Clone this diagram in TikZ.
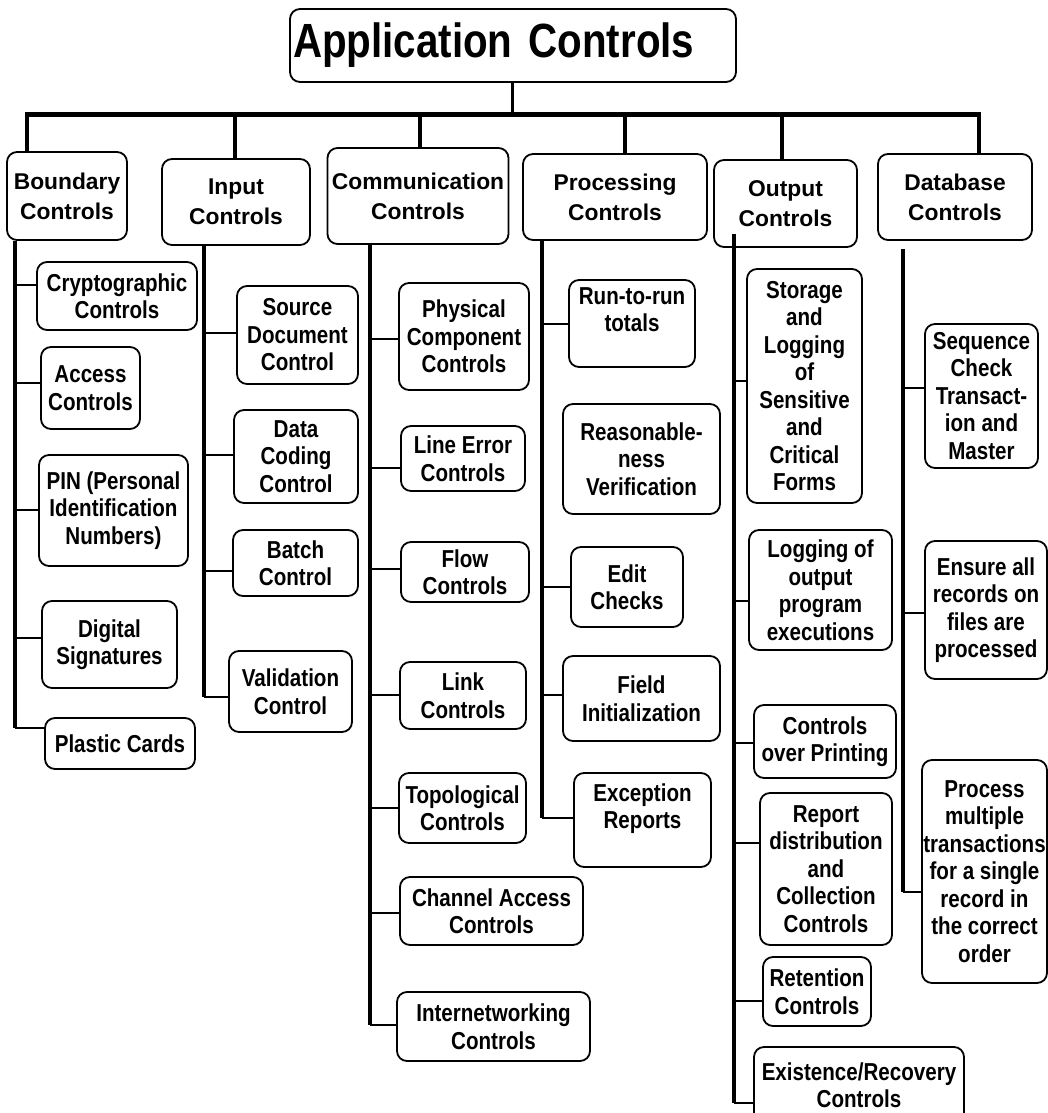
\documentclass[tikz,border=0pt]{standalone}
\usepackage{fontspec}
\setmainfont{Liberation Sans}
\newfontfamily\narrowsans{Liberation Sans}[FakeStretch=0.84]

\tikzset{
  ctl/.style={draw, rounded corners=10pt, line width=1.8pt, align=center, inner sep=0pt,
    font=\narrowsans\bfseries\fontsize{24.5}{27.5}\selectfont},
  cat/.style={ctl, font=\bfseries\fontsize{22.8}{30}\selectfont},
  wh/.style 2 args={minimum width=#1pt, minimum height=#2pt},
  stem/.style={line width=4.5pt},
  trunk/.style={line width=4pt},
  link/.style={line width=1.8pt},
}

\begin{document}
\begin{tikzpicture}[x=1pt, y=-1pt]
      \useasboundingbox (0,0) rectangle (1048,1113);
      \clip (0,0) rectangle (1048,1113);

      \node[ctl, wh={446}{73}, text width=440pt, align=left, font=\narrowsans\bfseries\fontsize{48}{52}\selectfont] (app) at (513,45.5) {Application Controls};

      \node[cat, wh={120}{88}] (bnd) at (67,196) {Boundary\\Controls};
      \node[cat, wh={148}{86}] (inp) at (236,202) {Input\\Controls};
      \node[cat, wh={181}{96}] (com) at (418,196) {Communication\\Controls};
      \node[cat, wh={184}{86}] (prc) at (615,197) {Processing\\Controls};
      \node[cat, wh={143}{87}] (out) at (785.5,203.5) {Output\\Controls};
      \node[cat, wh={154}{86}] (dbs) at (955,197) {Database\\Controls};

      \coordinate (hub) at (512,114.5);
      \draw[line width=3pt] (app.south -| hub) -- (hub);
      \draw[stem] (bnd.north -| 27,0) |- (hub) -| (dbs.north -| 979,0);
      \foreach \n/\x in {inp/235,com/420,prc/625,out/782}
        \draw[stem] (hub -| \x,0) -- (\n.north -| \x,0);

      % boundary
      \node[ctl, wh={160}{68}] (crypto) at (117,296) {Cryptographic\\Controls};
      \node[ctl, wh={99}{82}] (access) at (90.5,388) {Access\\Controls};
      \node[ctl, wh={149}{111}] (pin) at (113.5,510.5) {PIN (Personal\\Identification\\Numbers)};
      \node[ctl, wh={135}{87}] (digsig) at (109.5,644.5) {Digital\\Signatures};
      \node[ctl, wh={150}{51}] (plastic) at (120,743.5) {Plastic Cards};

      % input
      \node[ctl, wh={121}{98}] (srcdoc) at (297.5,335) {Source\\Document\\Control};
      \node[ctl, wh={124}{93}] (datacode) at (296,456.5) {Data\\Coding\\Control};
      \node[ctl, wh={125}{66}] (batch) at (295.5,563) {Batch\\Control};
      \node[ctl, wh={123}{81}] (valid) at (290.5,691.5) {Validation\\Control};

      % communication
      \node[ctl, wh={130}{107}] (physical) at (464,336.5) {Physical\\Component\\Controls};
      \node[ctl, wh={124}{65}] (lineerr) at (463,458.5) {Line Error\\Controls};
      \node[ctl, wh={128}{60}] (flow) at (465,572) {Flow\\Controls};
      \node[ctl, wh={126}{67}] (link) at (463,695.5) {Link\\Controls};
      \node[ctl, wh={127}{70}] (topo) at (462.5,808) {Topological\\Controls};
      \node[ctl, wh={183}{68}] (channel) at (491.5,911) {Channel Access\\Controls};
      \node[ctl, wh={193}{69}] (internet) at (493.5,1026.5) {Internetworking\\Controls};

      % processing
      \node[ctl, wh={126}{87}] (runrun) at (632,323.5) {Run-to-run\\totals\\\mbox{}};
      \node[ctl, wh={157}{110}] (reason) at (641.5,459) {Reasonable-\\ness\\Verification};
      \node[ctl, wh={112}{80}] (edit) at (627,587) {Edit\\Checks};
      \node[ctl, wh={157}{85}] (fieldinit) at (641.5,698.5) {Field\\Initialization};
      \node[ctl, wh={137}{94}] (except) at (642.5,820) {Exception\\Reports\\\mbox{}};

      % output
      \node[ctl, wh={115}{234}] (storage) at (804.5,386) {Storage\\and\\Logging\\of\\Sensitive\\and\\Critical\\Forms};
      \node[ctl, wh={143}{120}] (logging) at (820.5,590) {Logging of\\output\\program\\executions};
      \node[ctl, wh={142}{73}] (printing) at (825,741.5) {Controls\\over Printing};
      \node[ctl, wh={132}{152}] (report) at (826,869) {Report\\distribution\\and\\Collection\\Controls};
      \node[ctl, wh={108}{69}] (retention) at (817,991.5) {Retention\\Controls};
      \node[ctl, wh={210}{76}] (exist) at (859,1085) {Existence/Recovery\\Controls};

      % database
      \node[ctl, wh={113}{144}] (seqchk) at (981.5,396) {Sequence\\Check\\Transact-\\ion and\\Master};
      \node[ctl, wh={122}{138}] (ensure) at (986,610) {Ensure all\\records on\\files are\\processed};
      \node[ctl, wh={125}{223}] (process) at (984.5,871.5) {Process\\multiple\\transactions\\for a single\\record in\\the correct\\order};

      % trunks
      \coordinate (bndend) at (15,728);
      \coordinate (inpend) at (204,697);
      \coordinate (comend) at (370,1025);
      \coordinate (prcend) at (542,818);
      \coordinate (outend) at (734,1103);
      \coordinate (dbsend) at (903,892);
      \draw[trunk] (bnd.south -| bndend) -- (bndend);
      \draw[trunk] (inp.south -| inpend) -- (inpend);
      \draw[trunk] (com.south -| comend) -- (comend);
      \draw[trunk] (prc.south -| prcend) -- (prcend);
      \draw[trunk] ([yshift=14pt]out.south -| outend) -- (outend);
      \draw[trunk] ([yshift=-8pt]dbs.south -| dbsend) -- (dbsend);

      \foreach \n/\y in {crypto/285,access/383,pin/510,digsig/638,plastic/728}
        \draw[link] (\n.west |- 0,\y) -- (bndend |- 0,\y);
      \foreach \n/\y in {srcdoc/333,datacode/455,batch/571,valid/697}
        \draw[link] (\n.west |- 0,\y) -- (inpend |- 0,\y);
      \foreach \n/\y in {physical/339,lineerr/468,flow/569,link/695,topo/808,channel/913,internet/1025}
        \draw[link] (\n.west |- 0,\y) -- (comend |- 0,\y);
      \foreach \n/\y in {runrun/324,edit/587,fieldinit/695,except/818}
        \draw[link] (\n.west |- 0,\y) -- (prcend |- 0,\y);
      \foreach \n/\y in {storage/381,logging/601,printing/743,report/843,retention/1001,exist/1103}
        \draw[link] (\n.west |- 0,\y) -- (outend |- 0,\y);
      \foreach \n/\y in {seqchk/388,ensure/613,process/892}
        \draw[link] (\n.west |- 0,\y) -- (dbsend |- 0,\y);
\end{tikzpicture}
\end{document}
